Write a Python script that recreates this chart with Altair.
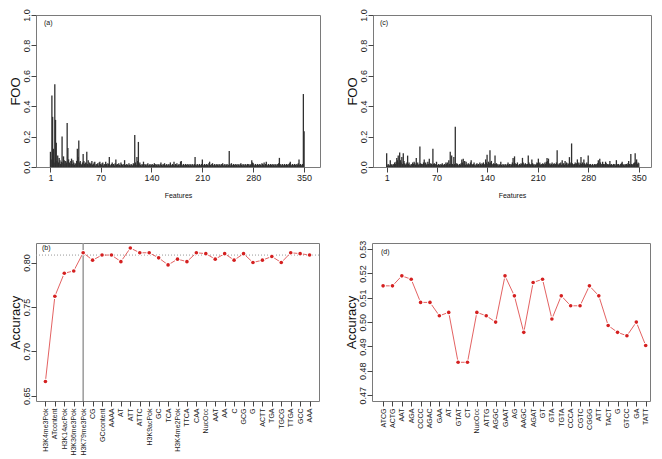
import altair as alt
import pandas as pd

# ---------------- data ----------------
features = list(range(1, 351))

foo_a = [
    0.10, 0.05, 0.47, 0.33, 0.12, 0.03, 0.545, 0.31, 0.16, 0.04,
    0.075, 0.03, 0.06, 0.045, 0.02, 0.035, 0.20, 0.03, 0.07, 0.045,
    0.02, 0.04, 0.03, 0.29, 0.125, 0.05, 0.03, 0.02, 0.04, 0.055,
    0.02, 0.045, 0.03, 0.015, 0.025, 0.02, 0.04, 0.12, 0.065, 0.175,
    0.03, 0.04, 0.02, 0.015, 0.03, 0.085, 0.04, 0.02, 0.03, 0.025,
    0.10, 0.02, 0.045, 0.015, 0.03, 0.02, 0.025, 0.04, 0.015, 0.02,
    0.03, 0.035, 0.01, 0.02, 0.015, 0.025, 0.01, 0.03, 0.035, 0.02,
    0.015, 0.025, 0.03, 0.01, 0.02, 0.015, 0.035, 0.02, 0.01, 0.025,
    0.02, 0.065, 0.015, 0.01, 0.02, 0.03, 0.015, 0.02, 0.01, 0.025,
    0.05, 0.015, 0.02, 0.01, 0.025, 0.015, 0.01, 0.03, 0.02, 0.015,
    0.01, 0.02, 0.045, 0.015, 0.01, 0.02, 0.015, 0.01, 0.025, 0.015,
    0.01, 0.02, 0.015, 0.01, 0.025, 0.02, 0.21, 0.03, 0.015, 0.065,
    0.04, 0.165, 0.02, 0.03, 0.015, 0.01, 0.02, 0.015, 0.035, 0.01,
    0.02, 0.015, 0.01, 0.02, 0.025, 0.01, 0.015, 0.02, 0.01, 0.015,
    0.02, 0.01, 0.015, 0.025, 0.01, 0.02, 0.015, 0.01, 0.02, 0.015,
    0.01, 0.02, 0.03, 0.015, 0.01, 0.02, 0.015, 0.025, 0.01, 0.015,
    0.02, 0.01, 0.015, 0.02, 0.01, 0.03, 0.015, 0.01, 0.02, 0.015,
    0.035, 0.01, 0.02, 0.015, 0.025, 0.01, 0.015, 0.02, 0.01, 0.035,
    0.04, 0.015, 0.01, 0.02, 0.015, 0.01, 0.02, 0.015, 0.01, 0.02,
    0.015, 0.01, 0.02, 0.015, 0.01, 0.02, 0.015, 0.01, 0.02, 0.065,
    0.015, 0.01, 0.02, 0.015, 0.01, 0.02, 0.015, 0.01, 0.02, 0.05,
    0.015, 0.01, 0.02, 0.015, 0.01, 0.02, 0.015, 0.01, 0.025, 0.035,
    0.015, 0.01, 0.02, 0.025, 0.01, 0.015, 0.02, 0.01, 0.015, 0.02,
    0.015, 0.01, 0.02, 0.015, 0.01, 0.02, 0.015, 0.025, 0.01, 0.015,
    0.02, 0.01, 0.015, 0.02, 0.01, 0.015, 0.105, 0.02, 0.01, 0.025,
    0.015, 0.01, 0.02, 0.015, 0.01, 0.02, 0.015, 0.01, 0.02, 0.015,
    0.01, 0.02, 0.025, 0.015, 0.01, 0.02, 0.015, 0.01, 0.02, 0.015,
    0.01, 0.02, 0.015, 0.02, 0.01, 0.015, 0.02, 0.045, 0.03, 0.025,
    0.015, 0.01, 0.02, 0.015, 0.01, 0.02, 0.015, 0.01, 0.02, 0.015,
    0.01, 0.025, 0.02, 0.015, 0.03, 0.01, 0.02, 0.035, 0.015, 0.01,
    0.02, 0.015, 0.01, 0.02, 0.015, 0.01, 0.02, 0.015, 0.01, 0.02,
    0.015, 0.01, 0.02, 0.015, 0.025, 0.06, 0.02, 0.015, 0.01, 0.02,
    0.015, 0.01, 0.02, 0.015, 0.01, 0.02, 0.015, 0.01, 0.02, 0.025,
    0.035, 0.015, 0.01, 0.02, 0.015, 0.01, 0.02, 0.015, 0.01, 0.02,
    0.015, 0.025, 0.05, 0.015, 0.02, 0.01, 0.015, 0.02, 0.48, 0.235,
]

foo_c = [
    0.09, 0.01, 0.02, 0.015, 0.01, 0.045, 0.02, 0.015, 0.01, 0.02,
    0.015, 0.03, 0.02, 0.035, 0.06, 0.045, 0.075, 0.03, 0.095, 0.045,
    0.03, 0.065, 0.02, 0.09, 0.04, 0.025, 0.015, 0.02, 0.03, 0.075,
    0.02, 0.03, 0.015, 0.01, 0.02, 0.015, 0.03, 0.02, 0.035, 0.025,
    0.015, 0.06, 0.02, 0.03, 0.015, 0.02, 0.135, 0.025, 0.02, 0.015,
    0.02, 0.03, 0.05, 0.02, 0.03, 0.015, 0.02, 0.035, 0.02, 0.055,
    0.015, 0.025, 0.02, 0.015, 0.12, 0.02, 0.025, 0.015, 0.02, 0.035,
    0.015, 0.01, 0.02, 0.015, 0.01, 0.02, 0.015, 0.025, 0.01, 0.015,
    0.02, 0.015, 0.03, 0.02, 0.03, 0.015, 0.045, 0.02, 0.10, 0.02,
    0.075, 0.02, 0.015, 0.065, 0.02, 0.265, 0.015, 0.025, 0.02, 0.015,
    0.01, 0.02, 0.015, 0.025, 0.05, 0.03, 0.055, 0.02, 0.04, 0.015,
    0.035, 0.02, 0.015, 0.025, 0.02, 0.015, 0.03, 0.045, 0.02, 0.015,
    0.02, 0.03, 0.015, 0.01, 0.02, 0.025, 0.015, 0.02, 0.01, 0.03,
    0.02, 0.015, 0.025, 0.02, 0.03, 0.015, 0.02, 0.05, 0.03, 0.08,
    0.02, 0.035, 0.025, 0.11, 0.03, 0.04, 0.02, 0.015, 0.025, 0.02,
    0.075, 0.02, 0.025, 0.015, 0.02, 0.01, 0.015, 0.02, 0.035, 0.015,
    0.01, 0.02, 0.015, 0.01, 0.02, 0.015, 0.01, 0.02, 0.03, 0.015,
    0.02, 0.01, 0.02, 0.015, 0.03, 0.06, 0.02, 0.07, 0.025, 0.015,
    0.02, 0.03, 0.015, 0.01, 0.02, 0.015, 0.025, 0.02, 0.06, 0.03,
    0.02, 0.015, 0.025, 0.02, 0.015, 0.02, 0.075, 0.03, 0.02, 0.015,
    0.02, 0.05, 0.025, 0.015, 0.02, 0.01, 0.015, 0.02, 0.03, 0.025,
    0.055, 0.02, 0.03, 0.015, 0.02, 0.015, 0.025, 0.02, 0.015, 0.03,
    0.02, 0.035, 0.06, 0.04, 0.055, 0.02, 0.025, 0.015, 0.02, 0.03,
    0.015, 0.02, 0.025, 0.015, 0.02, 0.03, 0.11, 0.02, 0.015, 0.025,
    0.02, 0.03, 0.015, 0.045, 0.02, 0.025, 0.015, 0.04, 0.02, 0.03,
    0.015, 0.025, 0.02, 0.065, 0.02, 0.03, 0.155, 0.025, 0.02, 0.015,
    0.02, 0.03, 0.02, 0.025, 0.05, 0.02, 0.03, 0.015, 0.025, 0.065,
    0.02, 0.03, 0.02, 0.05, 0.025, 0.015, 0.02, 0.03, 0.02, 0.075,
    0.02, 0.015, 0.02, 0.01, 0.015, 0.02, 0.01, 0.015, 0.02, 0.015,
    0.02, 0.015, 0.025, 0.045, 0.02, 0.055, 0.03, 0.02, 0.015, 0.035,
    0.02, 0.015, 0.02, 0.035, 0.025, 0.015, 0.02, 0.015, 0.02, 0.04,
    0.015, 0.02, 0.01, 0.015, 0.02, 0.015, 0.02, 0.01, 0.045, 0.02,
    0.015, 0.02, 0.01, 0.015, 0.02, 0.025, 0.035, 0.02, 0.015, 0.01,
    0.02, 0.015, 0.02, 0.015, 0.025, 0.04, 0.02, 0.015, 0.085, 0.02,
    0.015, 0.02, 0.025, 0.03, 0.09, 0.035, 0.05, 0.02, 0.03, 0.025,
]

b_labels = ["H3K4me3Pok", "ATcontent", "H3K14acPok", "H3K36me3Pok", "H3K79me3Pok",
            "CG", "GCcontent", "AAAA", "AT", "ATT", "ATTC", "H3K9acPok", "GC", "TCA",
            "H3K4me2Pok", "TTCA", "CAA", "NucOcc", "AAT", "AA", "C", "GCG", "G",
            "ACTT", "TGA", "TGCG", "TTGA", "GCC", "AAA"]
b_values = [0.666, 0.762, 0.788, 0.7905, 0.811, 0.8027, 0.8084, 0.8084, 0.801,
            0.8163, 0.811, 0.811, 0.8053, 0.7973, 0.8038, 0.801, 0.811, 0.810,
            0.8038, 0.810, 0.8027, 0.810, 0.800, 0.8027, 0.8068, 0.800, 0.811,
            0.810, 0.8084]
b_reference = [0.8084]
b_cutoff = ["H3K79me3Pok"]

d_labels = ["ATCG", "ACTG", "AAT", "AGA", "CCCC", "AGAC", "GAA", "AT", "GTAT", "CT",
            "NucOcc", "ATTG", "AGGC", "GAAT", "AG", "AAGC", "AGAT", "GT", "GTA",
            "TGTA", "CCCA", "CGTC", "CGGG", "ATT", "TACT", "G", "GTCC", "GA", "TATT"]
d_values = [0.5149, 0.5149, 0.5190, 0.5176, 0.5081, 0.5081, 0.5026, 0.5040, 0.4835,
            0.4835, 0.5040, 0.5026, 0.5000, 0.5190, 0.5108, 0.4958, 0.5163, 0.5176,
            0.5013, 0.5108, 0.5067, 0.5067, 0.5149, 0.5108, 0.4986, 0.4958, 0.4944,
            0.5000, 0.4904]

feature_ticks = [1, 70, 140, 210, 280, 350]
foo_ticks = [0.0, 0.2, 0.4, 0.6, 0.8, 1.0]
b_ticks = [0.65, 0.70, 0.75, 0.80]
d_ticks = [0.47, 0.48, 0.49, 0.50, 0.51, 0.52, 0.53]

FONT = "Liberation Sans"
BAR = "#303030"
RED = "#d42020"
LINE = "#e05050"

TOP_H = 152
BOT_H = 158


def y_axis(ticks, fmt, title):
    return alt.Axis(values=ticks, format=fmt, title=title, labelAngle=-90,
                    labelAlign="center", labelBaseline="bottom", labelFontSize=9,
                    tickSize=5, labelPadding=0, titleFontSize=13, titlePadding=0,
                    grid=False, domain=False)


def panel_tag(text, px, py):
    return alt.Chart(pd.DataFrame({"t": [text]})).mark_text(
        align="left", baseline="middle", fontSize=7, font=FONT, color="#111111"
    ).encode(x=alt.value(px), y=alt.value(py), text="t:N")


def bar_panel(values, tag, xdom, width, tx, ty):
    df = pd.DataFrame({"feature": features, "foo": values})
    bars = alt.Chart(df).mark_bar(size=1.3, color=BAR).encode(
        x=alt.X("feature:Q",
                scale=alt.Scale(domain=xdom, nice=False, zero=False),
                axis=alt.Axis(values=feature_ticks, format="d", title="Features",
                              labelFontSize=9, titleFontSize=7, tickSize=5,
                              labelPadding=1, titlePadding=9, grid=False,
                              domain=False, labelFlush=False)),
        y=alt.Y("foo:Q", scale=alt.Scale(domain=[0, 1], nice=False),
                axis=y_axis(foo_ticks, ".1f", "FOO")),
    )
    return alt.layer(bars, panel_tag(tag, tx, ty)).properties(width=width, height=TOP_H)


def acc_panel(labels, values, tag, ydom, ticks, fmt, width, scale_kw, tx, ty,
              ref=None, cut=None):
    df = pd.DataFrame({"lab": labels, "acc": values, "idx": list(range(len(labels)))})
    xenc = alt.X("lab:N", sort=labels,
                 scale=alt.Scale(type="point", **scale_kw),
                 axis=alt.Axis(title=None, labelAngle=-90, labelFontSize=7,
                               tickSize=5, labelPadding=2, domain=False,
                               labelOverlap=False))
    yenc = alt.Y("acc:Q", scale=alt.Scale(domain=ydom, nice=False, zero=False),
                 axis=y_axis(ticks, fmt, "Accuracy"))
    layers = []
    if ref is not None:
        layers.append(alt.Chart(pd.DataFrame({"r": ref})).mark_rule(
            color="#999999", strokeDash=[1, 2], strokeWidth=1).encode(y=alt.Y("r:Q")))
    if cut is not None:
        layers.append(alt.Chart(pd.DataFrame({"lab": cut})).mark_rule(
            color="#9a9a9a", strokeWidth=1.5).encode(x=alt.X("lab:N", sort=labels)))
    base = alt.Chart(df).encode(x=xenc, y=yenc)
    layers.append(base.mark_line(color=LINE, strokeWidth=0.9).encode(order="idx:Q"))
    layers.append(base.mark_point(filled=True, color="white", opacity=1, size=32))
    layers.append(base.mark_point(filled=True, color=RED, opacity=1, size=13))
    layers.append(panel_tag(tag, tx, ty))
    return alt.layer(*layers).properties(width=width, height=BOT_H)


pa = bar_panel(foo_a, "(a)", [-12, 365], 284, 8, 8)
pc = bar_panel(foo_c, "(c)", [-11, 360], 278, 7, 8)
pb = acc_panel(b_labels, b_values, "(b)", [0.644, 0.822], b_ticks, ".2f", 283,
               {"padding": 1.1}, 6, 5, ref=b_reference, cut=b_cutoff)
pd_ = acc_panel(d_labels, d_values, "(d)", [0.4676, 0.5325], d_ticks, ".2f", 278,
                {"padding": 0.82, "align": 0.72}, 9, 9)

top = alt.hconcat(pa, pc, spacing=24)
bottom = alt.hconcat(pb, pd_, spacing=24)

chart = alt.vconcat(top, bottom, spacing=40).properties(
    padding={"left": 0, "top": 0, "right": 0, "bottom": 0}
).configure_view(
    stroke="#7a7a7a", strokeWidth=1
).configure_axis(
    labelFont=FONT, titleFont=FONT, titleFontWeight="normal",
    labelColor="#222222", titleColor="#111111", tickColor="#444444"
)

chart.save("out.html", embed_options={"renderer": "svg", "actions": False})
